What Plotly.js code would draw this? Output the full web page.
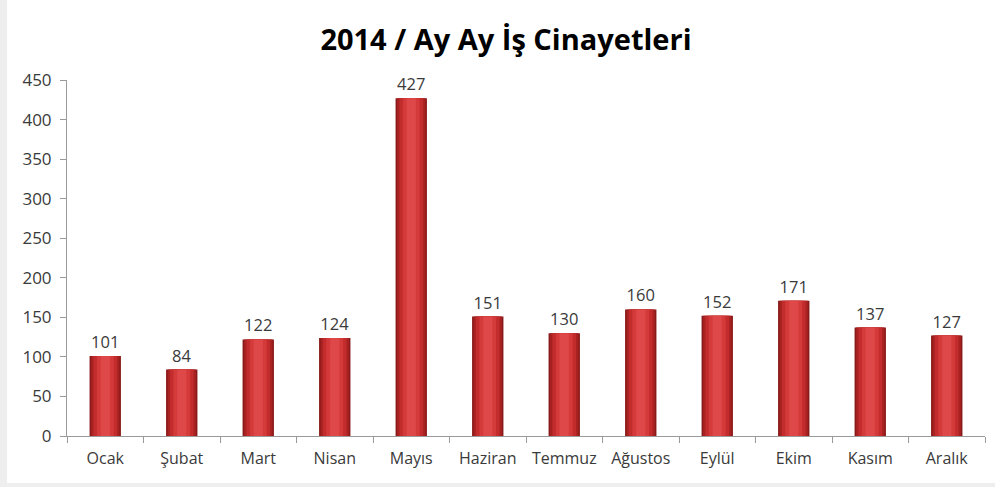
<!DOCTYPE html>
<html>
<head>
<meta charset="utf-8">
<script src="https://cdn.plot.ly/plotly-3.0.1.min.js"></script>
<style>
html,body{margin:0;padding:0;background:#eeeeee;width:995px;height:487px;overflow:hidden;}
#chart{position:absolute;left:7px;top:0;width:988px;height:483px;background:#fff;}
</style>
</head>
<body>
<div id="chart"></div>
<script>
const months = ["Ocak","Şubat","Mart","Nisan","Mayıs","Haziran","Temmuz","Ağustos","Eylül","Ekim","Kasım","Aralık"];
const deaths = [101,84,122,124,427,151,130,160,152,171,137,127];
const yTicks = [0,50,100,150,200,250,300,350,400,450];

const layers = [
  {w:0.41, c:"#8a1a1a"},
  {w:0.37, c:"#a82222"},
  {w:0.31, c:"#c22c2c"},
  {w:0.22, c:"#d43a3a"},
  {w:0.12, c:"#de4848"}
];
const traces = layers.map((l,i)=>({
  type:"bar", x:months, y:deaths, width:l.w,
  marker:{color:l.c, line:{width:0}},
  hoverinfo:"skip",
  text: i===0 ? deaths.map(String) : undefined,
  textposition: i===0 ? "outside" : "none",
  textfont:{family:"Open Sans, sans-serif", size:16.5, color:"#3a3a3a"},
  cliponaxis:false
}));

Plotly.newPlot("chart", traces, {
  width:988, height:483,
  barmode:"overlay",
  showlegend:false,
  paper_bgcolor:"#ffffff", plot_bgcolor:"#ffffff",
  margin:{l:60,r:10,t:80,b:47},
  title:{text:"<b>2014 / Ay Ay İş Cinayetleri</b>", x:0.505, xanchor:"center", y:0.918, yanchor:"middle",
         font:{family:"Open Sans, sans-serif", size:29, color:"#000"}},
  xaxis:{type:"category", showline:true, linecolor:"#9a9a9a", linewidth:1,
         ticks:"outside", tickson:"boundaries", ticklen:6, tickcolor:"#9a9a9a", ticklabelstandoff:8,
         tickfont:{family:"Open Sans, sans-serif", size:16, color:"#3a3a3a"}, showgrid:false, zeroline:false},
  yaxis:{range:[0,450], tickvals:yTicks, showline:true, linecolor:"#9a9a9a", linewidth:1,
         ticks:"outside", ticklen:6, tickcolor:"#9a9a9a", ticklabelstandoff:5, showgrid:false, zeroline:false,
         tickfont:{family:"Open Sans, sans-serif", size:17, color:"#3a3a3a"}}
}, {staticPlot:true, displayModeBar:false});
</script>
</body>
</html>
